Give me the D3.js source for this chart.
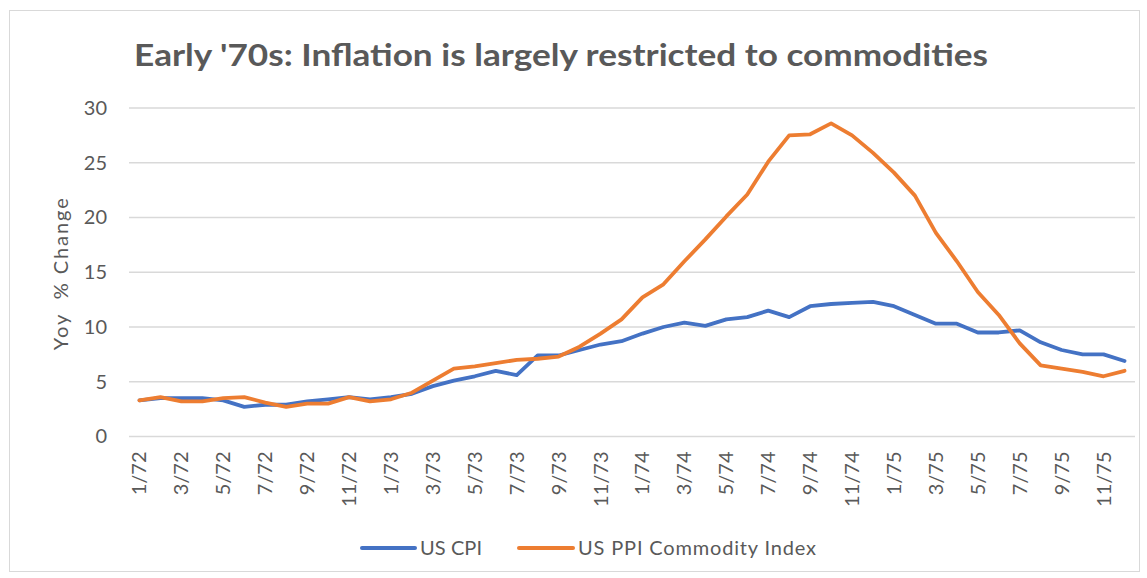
<!DOCTYPE html>
<html>
<head>
<meta charset="utf-8">
<script src="https://cdn.jsdelivr.net/npm/d3@7"></script>
<style>
  html, body { margin: 0; padding: 0; background: #ffffff; }
  svg { display: block; }
  text { font-family: "Lato", "Open Sans", "Liberation Sans", sans-serif; }
</style>
</head>
<body>
<svg id="chart" width="1147" height="578"></svg>
<script>
const titleText = "Early '70s: Inflation is largely restricted to commodities";
const yAxisTitle = "Yoy  % Change";
const months = [
  "1/72","2/72","3/72","4/72","5/72","6/72","7/72","8/72","9/72","10/72","11/72","12/72",
  "1/73","2/73","3/73","4/73","5/73","6/73","7/73","8/73","9/73","10/73","11/73","12/73",
  "1/74","2/74","3/74","4/74","5/74","6/74","7/74","8/74","9/74","10/74","11/74","12/74",
  "1/75","2/75","3/75","4/75","5/75","6/75","7/75","8/75","9/75","10/75","11/75","12/75"
];
const cpiValues = [
  3.3, 3.5, 3.5, 3.5, 3.3, 2.7, 2.9, 2.9, 3.2, 3.4, 3.6, 3.4,
  3.6, 3.9, 4.6, 5.1, 5.5, 6.0, 5.6, 7.4, 7.4, 7.9, 8.4, 8.7,
  9.4, 10.0, 10.4, 10.1, 10.7, 10.9, 11.5, 10.9, 11.9, 12.1, 12.2, 12.3,
  11.9, 11.1, 10.3, 10.3, 9.5, 9.5, 9.7, 8.6, 7.9, 7.5, 7.5, 6.9
];
const ppiValues = [
  3.3, 3.6, 3.2, 3.2, 3.5, 3.6, 3.1, 2.7, 3.0, 3.0, 3.6, 3.2,
  3.4, 4.0, 5.1, 6.2, 6.4, 6.7, 7.0, 7.1, 7.3, 8.2, 9.4, 10.7,
  12.7, 13.9, 16.0, 18.0, 20.1, 22.1, 25.1, 27.5, 27.6, 28.6, 27.5, 25.9,
  24.1, 22.0, 18.6, 16.0, 13.2, 11.1, 8.5, 6.5, 6.2, 5.9, 5.5, 6.0
];
const yTicks = [0, 5, 10, 15, 20, 25, 30];
const seriesNames = ["US CPI", "US PPI Commodity Index"];
const seriesColors = ["#4472C4", "#ED7D31"];

const svg = d3.select("#chart");
const W = 1147, H = 578;
const margin = { left: 129, right: 12, top: 108, bottom: 141.5 };

// chart frame
svg.append("rect")
  .attr("x", 9.5).attr("y", 10.5)
  .attr("width", 1130).attr("height", 561)
  .attr("fill", "#ffffff").attr("stroke", "#d9d9d9").attr("stroke-width", 1);

const x = d3.scaleBand().domain(months).range([margin.left, W - margin.right]).padding(0);
const y = d3.scaleLinear().domain([0, 30]).range([H - margin.bottom, margin.top]);

// gridlines
svg.append("g").selectAll("line").data(yTicks).join("line")
  .attr("x1", margin.left).attr("x2", W - margin.right)
  .attr("y1", d => y(d)).attr("y2", d => y(d))
  .attr("stroke", "#d9d9d9").attr("stroke-width", 1.5);

// y axis
const yAxis = d3.axisLeft(y).tickValues(yTicks).tickSize(0).tickPadding(0);
const gy = svg.append("g").attr("transform", `translate(${margin.left - 22},0)`).call(yAxis);
gy.select(".domain").remove();
gy.selectAll("text").attr("fill", "#595959").style("font-size", "20px")
  .style("font-family", "Lato, 'Open Sans', sans-serif");

// x axis
const xTickVals = months.filter((d, i) => i % 2 === 0);
const xAxis = d3.axisBottom(x).tickValues(xTickVals).tickSize(0).tickPadding(0);
const gx = svg.append("g").attr("transform", `translate(0,${H - margin.bottom})`).call(xAxis);
gx.select(".domain").remove();
gx.selectAll("text")
  .attr("fill", "#595959").style("font-size", "20px")
  .style("font-family", "Lato, 'Open Sans', sans-serif")
  .attr("text-anchor", "end")
  .attr("transform", "rotate(-90)")
  .attr("x", -15).attr("y", 0).attr("dy", "0.35em");

// y axis title
svg.append("text")
  .attr("transform", `translate(68,${(y(0) + y(30)) / 2 + 2}) rotate(-90)`)
  .attr("text-anchor", "middle")
  .attr("fill", "#595959").style("font-size", "20px")
  .style("white-space", "pre")
  .attr("textLength", 152).attr("lengthAdjust", "spacing")
  .text(yAxisTitle);

// title
svg.append("text")
  .attr("x", 134).attr("y", 66)
  .attr("fill", "#595959").style("font-size", "30px").style("font-weight", "bold")
  .attr("textLength", 854).attr("lengthAdjust", "spacingAndGlyphs")
  .text(titleText);

// lines
const line = d3.line()
  .x((d, i) => x(months[i]) + x.bandwidth() / 2)
  .y(d => y(d));
[cpiValues, ppiValues].forEach((vals, k) => {
  svg.append("path").datum(vals)
    .attr("fill", "none").attr("stroke", seriesColors[k])
    .attr("stroke-width", 3.8).attr("stroke-linejoin", "round").attr("stroke-linecap", "round")
    .attr("d", line);
});

// legend
const legendItems = [
  { x1: 362, x2: 415, tx: 420, tl: 62, name: seriesNames[0], color: seriesColors[0] },
  { x1: 519, x2: 573, tx: 578, tl: 238, name: seriesNames[1], color: seriesColors[1] }
];
const lg = svg.append("g");
legendItems.forEach(it => {
  lg.append("line").attr("x1", it.x1).attr("x2", it.x2).attr("y1", 548).attr("y2", 548)
    .attr("stroke", it.color).attr("stroke-width", 4).attr("stroke-linecap", "round");
  lg.append("text").attr("x", it.tx).attr("y", 548).attr("dy", "0.35em")
    .attr("fill", "#595959").style("font-size", "20px")
    .attr("textLength", it.tl).attr("lengthAdjust", "spacing")
    .text(it.name);
});
</script>
</body>
</html>
